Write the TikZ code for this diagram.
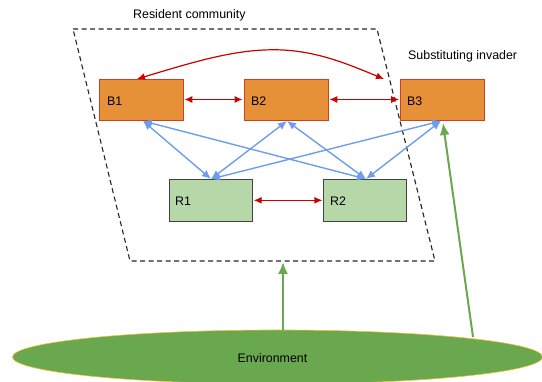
\documentclass[tikz,border=0pt]{standalone}
\usepackage{fontspec}
\setmainfont{Liberation Sans}
\usetikzlibrary{arrows.meta,shapes.geometric}
\definecolor{borange}{HTML}{E69138}
\definecolor{bred}{HTML}{CC4125}
\definecolor{rgreen}{HTML}{B6D7A8}
\definecolor{rborder}{HTML}{434343}
\definecolor{ablue}{HTML}{6D9EEB}
\definecolor{ared}{HTML}{CC0000}
\definecolor{agreen}{HTML}{6AA84F}
\definecolor{eborder}{HTML}{F1C232}
\tikzset{
  every node/.style={font=\fontsize{12.4}{14}\selectfont},
  bbox/.style={draw=bred, fill=borange, line width=0.8pt, minimum width=84pt, minimum height=41pt, inner sep=0pt},
  rbox/.style={draw=rborder, fill=rgreen, line width=0.8pt, minimum width=83pt, minimum height=42pt, inner sep=0pt},
  lbl/.style={anchor=west, inner sep=0pt},
  redarr/.style={draw=ared, line width=1.2pt, {Latex[length=8pt,width=7pt]}-{Latex[length=8pt,width=7pt]}},
  bluearr/.style={draw=ablue, line width=1.4pt, {Latex[length=9pt,width=8pt]}-{Latex[length=9pt,width=8pt]}},
  greenarr/.style={draw=agreen, line width=2pt, -{Latex[length=12pt,width=10pt]}},
  dashbox/.style={draw=black!85, line width=1.1pt, dash pattern=on 5pt off 3.5pt}
}
\begin{document}
\begin{tikzpicture}[x=1pt,y=-1pt]
\useasboundingbox (0,0) rectangle (542,382);
% resident community frame
\draw[dashbox] (73,29) -- (377,29) -- (435,261) -- (130,261) -- cycle;
\node[anchor=west, inner sep=0pt] (rc) at (133,15) {Resident community};
\node[anchor=west, inner sep=0pt] (si) at (408,56) {Substituting invader};
% environment
\node[ellipse, draw=eborder, fill=agreen, line width=0.6pt, minimum width=530pt, minimum height=54pt, inner sep=0pt] (env) at (277.5,357) {};
\node (envt) at (272.5,358) {Environment};
% boxes
\node[bbox] (B1) at (141,99.5) {};
\node[bbox] (B2) at (286,99.5) {};
\node[bbox] (B3) at (442.5,99.5) {};
\node[rbox] (R1) at (210.8,200.3) {};
\node[rbox] (R2) at (365.3,200.3) {};
\node[lbl] at (107,101) {B1};
\node[lbl] at (251,101) {B2};
\node[lbl] at (407,101) {B3};
\node[lbl] at (175,201) {R1};
\node[lbl] at (330,201) {R2};
% anchors
\coordinate (b1s) at (143,121);
\coordinate (b2s) at (287,121);
\coordinate (b3s) at (441,121);
\coordinate (r1n) at (211,179);
\coordinate (r2n) at (366,179);
% red arrows
\draw[redarr] ([xshift=1pt]B1.east) -- ([xshift=-1pt]B2.west);
\draw[redarr] ([xshift=1pt]B2.east) -- ([xshift=-1pt]B3.west);
\draw[redarr] ([xshift=1pt]R1.east) -- ([xshift=-1pt]R2.west);
\coordinate (b1n) at (137,79);
\coordinate (b3n) at (384,79);
\draw[redarr] (b1n) .. controls (200,60) and (240,48) .. (283,50) .. controls (320,52) and (350,65) .. (b3n);
% blue arrows
\draw[bluearr] (b1s) -- (r1n);
\draw[bluearr] (b1s) -- (r2n);
\draw[bluearr] (b2s) -- (r1n);
\draw[bluearr] (b2s) -- (r2n);
\draw[bluearr] (b3s) -- (r1n);
\draw[bluearr] (b3s) -- (r2n);
% green arrows
\coordinate (envtop) at (283,330);
\coordinate (frameb) at (283,262);
\coordinate (envr) at (473,337);
\coordinate (b3g) at (443,123);
\draw[greenarr] (envtop) -- (frameb);
\draw[greenarr] (envr) -- (b3g);
\end{tikzpicture}
\end{document}
